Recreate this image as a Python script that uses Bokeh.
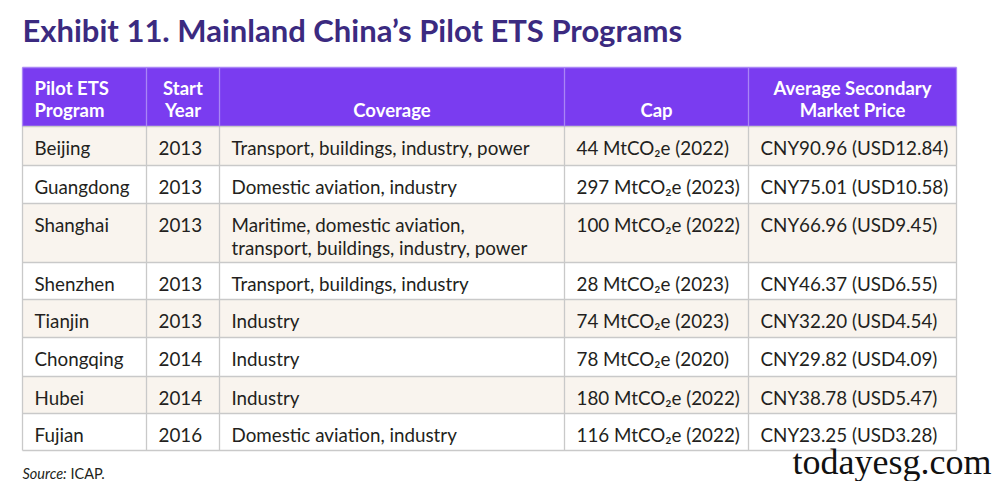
from bokeh.plotting import figure
from bokeh.models import Range1d, ColumnDataSource
from bokeh.core.properties import value
from bokeh.embed import file_html
from bokeh.resources import INLINE

# ---------------- data ----------------
title_text = "Exhibit 11. Mainland China’s Pilot ETS Programs"
headers = [["Pilot ETS", "Program"], ["Start", "Year"], ["Coverage"], ["Cap"],
           ["Average Secondary", "Market Price"]]
programs = ["Beijing", "Guangdong", "Shanghai", "Shenzhen", "Tianjin", "Chongqing", "Hubei", "Fujian"]
start_years = ["2013", "2013", "2013", "2013", "2013", "2014", "2014", "2016"]
coverage = [["Transport, buildings, industry, power"],
            ["Domestic aviation, industry"],
            ["Maritime, domestic aviation,", "transport, buildings, industry, power"],
            ["Transport, buildings, industry"],
            ["Industry"], ["Industry"], ["Industry"],
            ["Domestic aviation, industry"]]
cap_mt = [44, 297, 100, 28, 74, 78, 180, 116]
cap_year = [2022, 2023, 2022, 2023, 2023, 2020, 2022, 2022]
price_cny = ["90.96", "75.01", "66.96", "46.37", "32.20", "29.82", "38.78", "23.25"]
price_usd = ["12.84", "10.58", "9.45", "6.55", "4.54", "4.09", "5.47", "3.28"]
source_label = "Source:"
source_name = "ICAP."
watermark = "todayesg.com"

# ---------------- layout ----------------
W, H = 997, 481
col_edges = [22, 146, 219, 564, 748, 956]
header_top, header_bottom = 67, 126
row_heights = [39, 38, 59, 37, 38, 39, 37, 37]
pad = 12
line_gap = 23
FONT = "Lato"
TEXT_COLOR = "#231f20"
HEADER_FILL = "#7a3cf0"
BEIGE = "#f9f4ee"
GRID = "#c9c9c9"
TITLE_COLOR = "#3b2a80"

p = figure(width=W, height=H, output_backend="svg", toolbar_location=None,
           x_range=Range1d(0, W), y_range=Range1d(H, 0), min_border=0)
p.axis.visible = False
p.grid.visible = False
p.outline_line_color = None
p.background_fill_color = "white"
p.border_fill_color = "white"

# row edges
row_edges = [header_bottom]
for h in row_heights:
    row_edges.append(row_edges[-1] + h)

# header background
p.quad(left=[col_edges[0]], right=[col_edges[-1]], top=[header_top], bottom=[header_bottom],
       fill_color=HEADER_FILL, line_color=None)

# row backgrounds
p.quad(left=[col_edges[0]] * len(programs), right=[col_edges[-1]] * len(programs),
       top=row_edges[:-1], bottom=row_edges[1:],
       fill_color=[BEIGE if i % 2 == 0 else "white" for i in range(len(programs))],
       line_color=None)

# grid lines
hx0, hx1, hy0, hy1 = [], [], [], []
for y in row_edges:
    hx0.append(col_edges[0]); hx1.append(col_edges[-1]); hy0.append(y); hy1.append(y)
p.segment(x0=hx0, x1=hx1, y0=hy0, y1=hy1, line_color=GRID, line_width=1.3)
vx, vy0, vy1 = [], [], []
for x in col_edges:
    vx.append(x); vy0.append(header_bottom); vy1.append(row_edges[-1])
p.segment(x0=vx, x1=vx, y0=vy0, y1=vy1, line_color=GRID, line_width=1.3)
# header separators (lighter on purple)
p.segment(x0=col_edges, x1=col_edges, y0=[header_top] * len(col_edges),
          y1=[header_bottom] * len(col_edges), line_color="#a985f5", line_width=1.3)
p.segment(x0=[col_edges[0]], x1=[col_edges[-1]], y0=[header_top], y1=[header_top],
          line_color="#a985f5", line_width=1.3)

# header text
hx, hy, ht, ha = [], [], [], []
for c, lines in enumerate(headers):
    n = len(lines)
    for k, line in enumerate(lines):
        if c == 0:
            hx.append(col_edges[c] + pad); ha.append("left")
        else:
            hx.append((col_edges[c] + col_edges[c + 1]) / 2); ha.append("center")
        hy.append(header_bottom - 17 - (n - 1 - k) * 22)
        ht.append(line)
p.text(x="x", y="y", text="t", text_align="a",
       source=ColumnDataSource(dict(x=hx, y=hy, t=ht, a=ha)),
       text_font=value(FONT), text_font_style="bold", text_font_size="18.5px",
       text_color="white", text_baseline="middle")

# body text
bx, by, bt = [], [], []
for r in range(len(programs)):
    top = row_edges[r]
    cells = [[programs[r]], [start_years[r]], coverage[r],
             [f"{cap_mt[r]} MtCO₂e ({cap_year[r]})"],
             [f"CNY{price_cny[r]} (USD{price_usd[r]})"]]
    for c, lines in enumerate(cells):
        for k, line in enumerate(lines):
            bx.append(col_edges[c] + pad)
            by.append(top + 21 + k * line_gap)
            bt.append(line)
p.text(x="x", y="y", text="t", source=ColumnDataSource(dict(x=bx, y=by, t=bt)),
       text_font=value(FONT), text_font_size="18.8px", text_color=TEXT_COLOR,
       text_align="left", text_baseline="middle")

# title
p.text(x=[col_edges[0]], y=[29], text=[title_text], text_font=value(FONT),
       text_font_style="bold", text_font_size="31px", text_color=TITLE_COLOR,
       text_align="left", text_baseline="middle")

# source
p.text(x=[col_edges[0]], y=[473], text=[source_label], text_font=value(FONT),
       text_font_style="italic", text_font_size="14.5px", text_color=TEXT_COLOR,
       text_align="left", text_baseline="middle")
p.text(x=[70], y=[473], text=[source_name], text_font=value(FONT),
       text_font_size="14.5px", text_color=TEXT_COLOR,
       text_align="left", text_baseline="middle")

# watermark
p.text(x=[792], y=[461], text=[watermark], text_font=value("Liberation Serif"),
       text_font_size="36px", text_color="#111111",
       text_align="left", text_baseline="middle")

open("out.html", "w").write(file_html(p, INLINE))
